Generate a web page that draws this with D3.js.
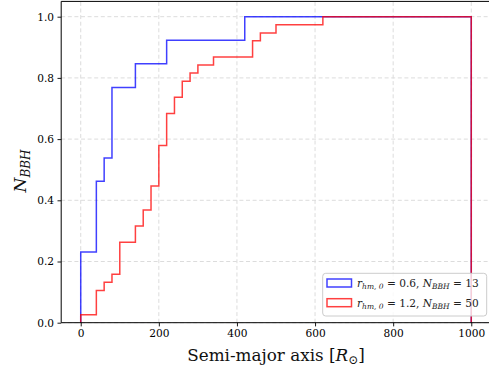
<!DOCTYPE html>
<html>
<head>
<meta charset="utf-8">
<script src="https://cdn.jsdelivr.net/npm/d3@7"></script>
<style>
html,body{margin:0;padding:0;background:#fff;}
svg{display:block;}
text{font-family:"DejaVu Serif",serif;}
</style>
</head>
<body>
<svg id="chart" width="489" height="368"></svg>
<script>
// Data (cumulative fraction of BBHs vs semi-major axis)
const blueEdges = [0, 40, 60, 80, 140, 220, 420];
const blueValues = [0.231, 0.462, 0.538, 0.769, 0.846, 0.923, 1.0];
const redEdges = [0, 40, 60, 80, 100, 140, 160, 180, 200, 220, 240, 260, 280, 300, 340, 440, 460, 500, 620];
const redValues = [0.026, 0.105, 0.132, 0.158, 0.263, 0.316, 0.368, 0.447, 0.579, 0.684, 0.737, 0.789, 0.816, 0.842, 0.868, 0.921, 0.947, 0.974, 1.0];
const lastEdge = 1000;
const xTicks = [0, 200, 400, 600, 800, 1000];
const yTicks = [0.0, 0.2, 0.4, 0.6, 0.8, 1.0];

const svg = d3.select("#chart");
const x = d3.scaleLinear().domain([-50, 1050]).range([61.2, 490.8]);
const y = d3.scaleLinear().domain([0, 1.05]).range([322.7, 1.4]);

// grid
const grid = svg.append("g");
grid.selectAll("line.gx").data(xTicks).enter().append("line")
  .attr("x1", d => x(d)).attr("x2", d => x(d))
  .attr("y1", y(0)).attr("y2", y(1.05))
  .attr("stroke", "#dcdcdc").attr("stroke-width", 1).attr("stroke-dasharray", "4,2.6");
grid.selectAll("line.gy").data(yTicks).enter().append("line")
  .attr("x1", x(-50)).attr("x2", x(1050))
  .attr("y1", d => y(d)).attr("y2", d => y(d))
  .attr("stroke", "#dcdcdc").attr("stroke-width", 1).attr("stroke-dasharray", "4,2.6");

function stepPoints(edges, vals) {
  const pts = [[edges[0], 0]];
  edges.forEach((e, i) => pts.push([e, vals[i]]));
  pts.push([lastEdge, vals[vals.length - 1]]);
  pts.push([lastEdge, 0]);
  return pts;
}
const line = d3.line().x(d => x(d[0])).y(d => y(d[1])).curve(d3.curveStepAfter);

svg.append("path").attr("d", line(stepPoints(blueEdges, blueValues)))
  .attr("fill", "none").attr("stroke", "#0000ff").attr("stroke-opacity", 0.75).attr("stroke-width", 1.5);
svg.append("path").attr("d", line(stepPoints(redEdges, redValues)))
  .attr("fill", "none").attr("stroke", "#ff0000").attr("stroke-opacity", 0.75).attr("stroke-width", 1.5);

// axes
const xAxis = d3.axisBottom(x).tickValues(xTicks).tickSize(3.7).tickPadding(3.5).tickFormat(d3.format("d"));
const yAxis = d3.axisLeft(y).tickValues(yTicks).tickSize(3.7).tickPadding(3.5).tickFormat(d3.format(".1f"));
const gx = svg.append("g").attr("transform", `translate(0,${y(0)})`).call(xAxis);
const gy = svg.append("g").attr("transform", `translate(${x(-50)},0)`).call(yAxis);
[gx, gy].forEach(g => {
  g.select(".domain").remove();
  g.selectAll(".tick line").attr("stroke", "#000").attr("stroke-width", 0.9);
  g.selectAll(".tick text").attr("fill", "#000").style("font-family", "DejaVu Serif").style("font-size", "10.6px");
});
// spines
svg.append("line").attr("x1", x(-50)).attr("x2", x(1050)).attr("y1", y(0)).attr("y2", y(0)).attr("stroke", "#000").attr("stroke-width", 1);
svg.append("line").attr("x1", x(-50)).attr("x2", x(1050)).attr("y1", y(1.05)).attr("y2", y(1.05)).attr("stroke", "#000").attr("stroke-width", 1);
svg.append("line").attr("x1", x(-50)).attr("x2", x(-50)).attr("y1", y(0)).attr("y2", y(1.05)).attr("stroke", "#000").attr("stroke-width", 1);
svg.append("line").attr("x1", x(1050)).attr("x2", x(1050)).attr("y1", y(0)).attr("y2", y(1.05)).attr("stroke", "#000").attr("stroke-width", 1);

// x label
const xl = svg.append("text").attr("x", 276).attr("y", 361).attr("text-anchor", "middle")
  .style("font-size", "16.8px").attr("fill", "#111");
xl.append("tspan").text("Semi-major axis ");
xl.append("tspan").text("[");
xl.append("tspan").style("font-style", "italic").text("R");
xl.append("tspan").attr("dy", 3).style("font-size", "12px").text("⊙");
xl.append("tspan").attr("dy", -3).text("]");

// y label
const yl = svg.append("text").attr("transform", "translate(26,171) rotate(-90)").attr("text-anchor", "middle")
  .style("font-size", "17px").attr("fill", "#111");
yl.append("tspan").style("font-style", "italic").text("N");
yl.append("tspan").attr("dy", 3.5).style("font-style", "italic").style("font-size", "12px").text("BBH");

// legend
const lg = svg.append("g");
lg.append("rect").attr("x", 322.7).attr("y", 273.3).attr("width", 164).attr("height", 42.7)
  .attr("rx", 3).attr("fill", "#fff").attr("fill-opacity", 0.8).attr("stroke", "#cccccc").attr("stroke-width", 1);
const legendItems = [
  {color: "#0000ff", r: "0.6", n: "13"},
  {color: "#ff0000", r: "1.2", n: "50"}
];
legendItems.forEach((it, i) => {
  const cy = 283 + i * 19.7;
  lg.append("rect").attr("x", 327).attr("y", cy - 4).attr("width", 24.5).attr("height", 8)
    .attr("fill", "none").attr("stroke", it.color).attr("stroke-opacity", 0.75).attr("stroke-width", 1.5);
  const t = lg.append("text").attr("x", 357).attr("y", cy + 3.8).style("font-size", "10.6px").attr("fill", "#222");
  t.append("tspan").style("font-style", "italic").text("r");
  t.append("tspan").attr("dy", 2.5).style("font-style", "italic").style("font-size", "7.5px").text("hm, 0");
  t.append("tspan").attr("dy", -2.5).text(" = " + it.r + ", ");
  t.append("tspan").style("font-style", "italic").text("N");
  t.append("tspan").attr("dy", 2.5).style("font-style", "italic").style("font-size", "7.5px").text("BBH");
  t.append("tspan").attr("dy", -2.5).text(" = " + it.n);
});
</script>
</body>
</html>
